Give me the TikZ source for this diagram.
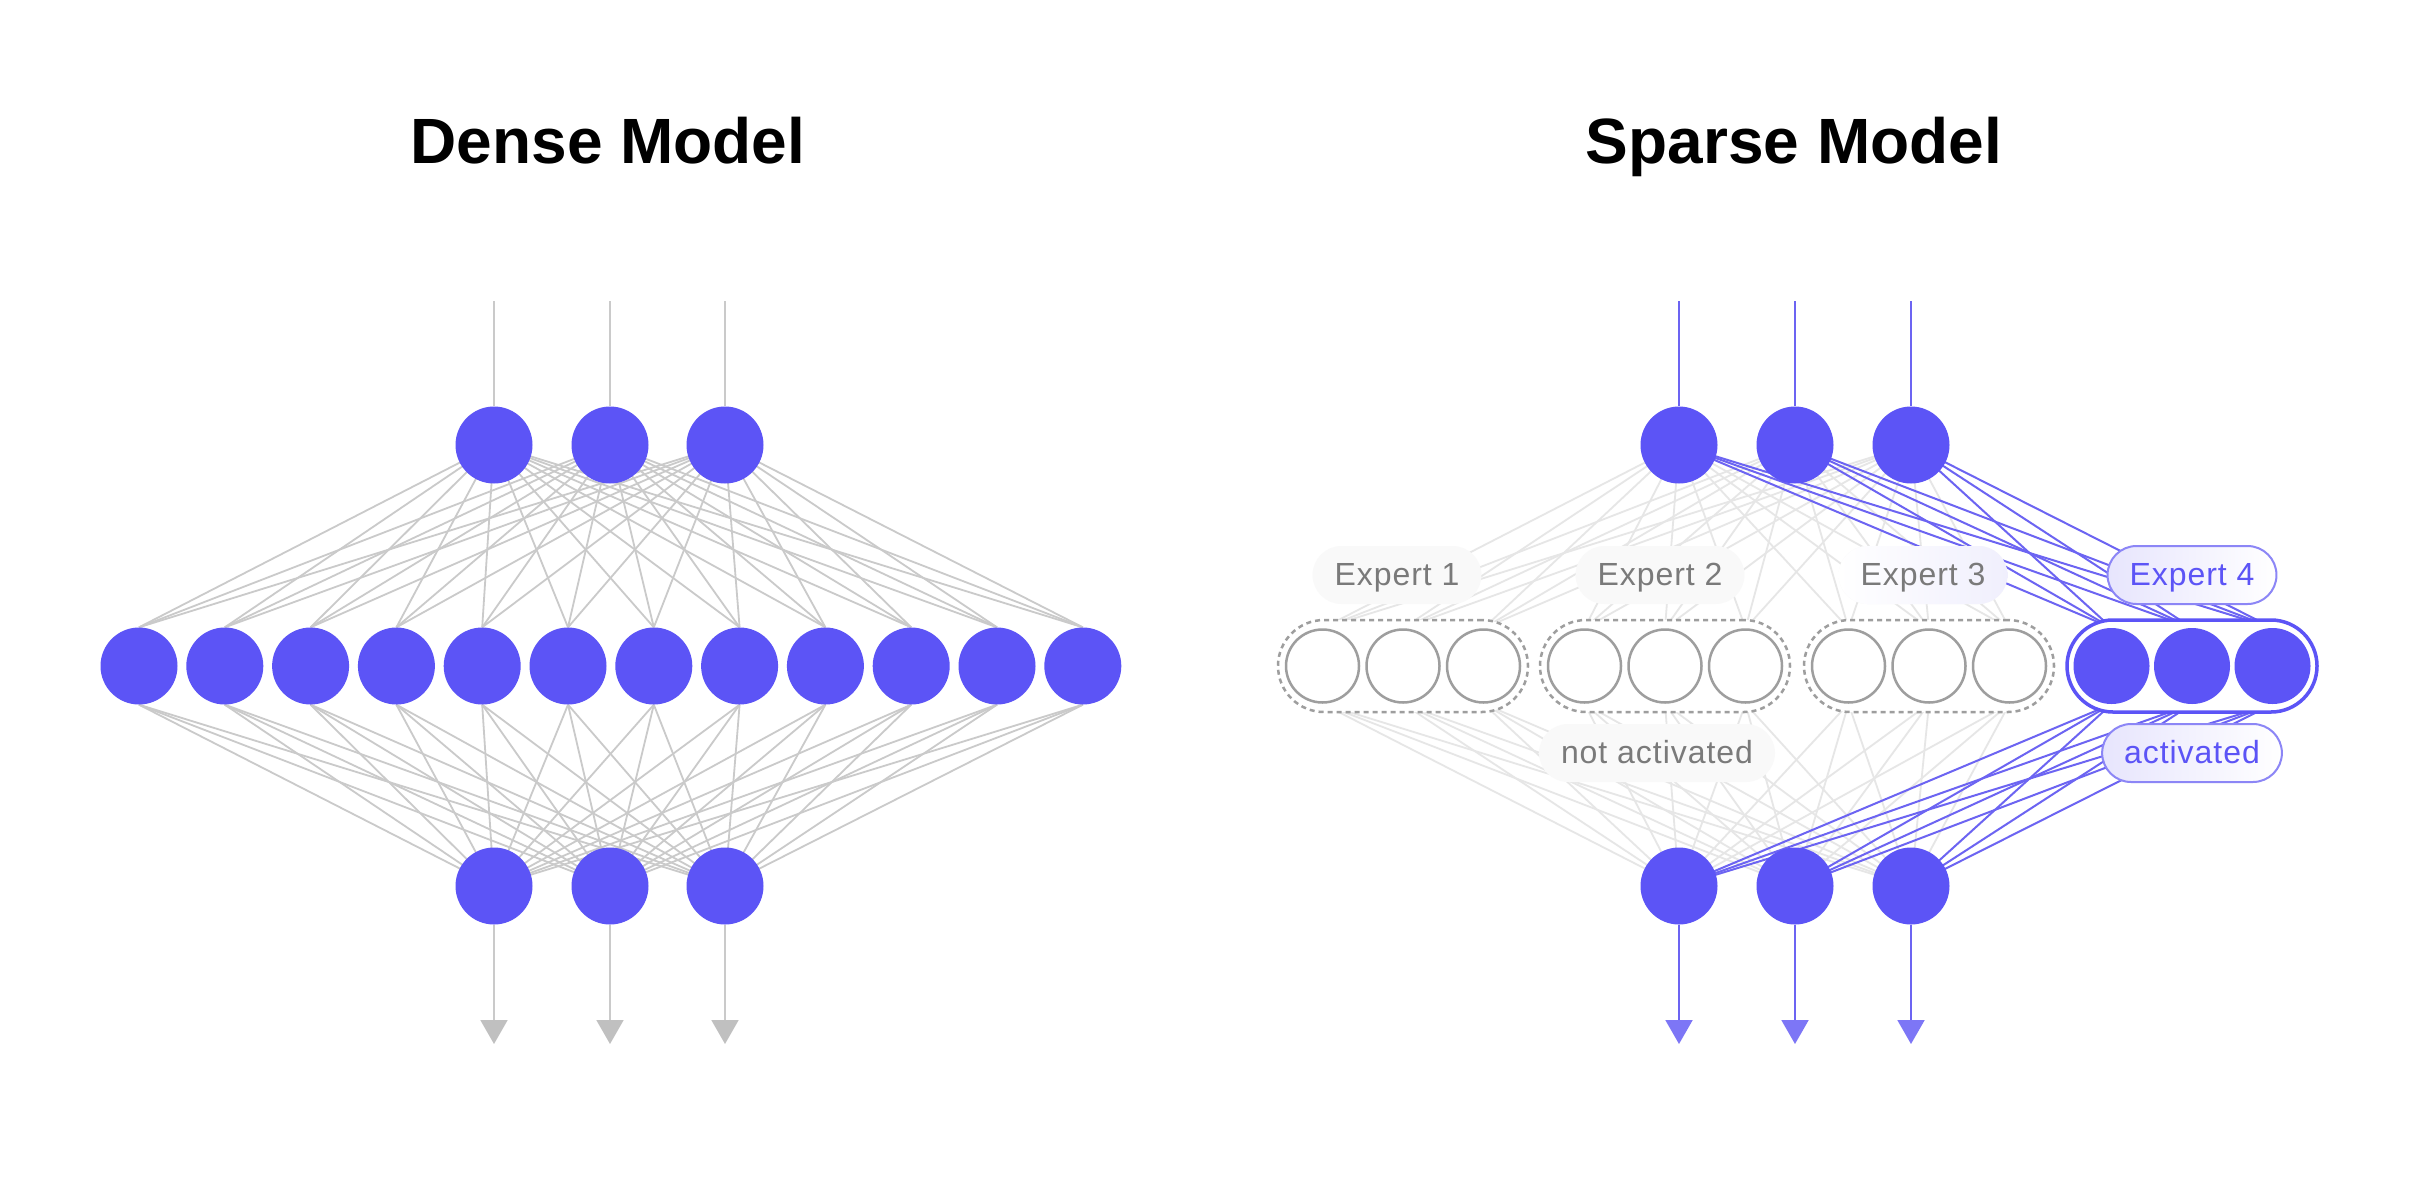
\documentclass[tikz,border=0pt]{standalone}
\usepackage{fontspec}
\setmainfont{Liberation Sans}
\usetikzlibrary{arrows.meta}
\definecolor{nodeblue}{RGB}{92,84,246}
\definecolor{lineblue}{RGB}{108,100,242}
\definecolor{tipblue}{RGB}{125,118,246}
\definecolor{densegrey}{RGB}{202,202,202}
\definecolor{tipgrey}{RGB}{192,192,192}
\definecolor{faintgrey}{RGB}{230,230,230}
\definecolor{ringgrey}{RGB}{158,158,158}
\definecolor{textgrey}{RGB}{122,122,122}
\definecolor{pillblue}{RGB}{140,134,246}
\definecolor{lav}{RGB}{231,229,253}
\definecolor{lavlight}{RGB}{240,239,253}
\definecolor{labelbg}{RGB}{249,249,249}
\pgfdeclarelayer{bgl}
\pgfdeclarelayer{offl}
\pgfdeclarelayer{onl}
\pgfsetlayers{bgl,offl,onl,main}
\tikzset{
  neuron/.style={circle, fill=nodeblue, minimum size=77pt, inner sep=0pt, draw=none},
  hollow/.style={circle, draw=ringgrey, line width=2.5pt, fill=white, minimum size=73pt, inner sep=0pt},
  denseedge/.style={draw=densegrey, line width=1.8pt},
  offedge/.style={draw=faintgrey, line width=1.8pt},
  onedge/.style={draw=lineblue, line width=2pt},
  groupbox/.style={rectangle, rounded corners=46pt, minimum width=250pt, minimum height=92pt, inner sep=0pt, fill=white},
  offbox/.style={groupbox, draw=ringgrey, line width=2.5pt, dash pattern=on 5pt off 4pt},
  onbox/.style={groupbox, draw=nodeblue, line width=3.5pt},
  titletext/.style={font=\fontsize{64}{76}\selectfont\bfseries, anchor=base, inner sep=0pt},
  pill/.style={rectangle, rounded corners=29pt, minimum height=58pt, inner xsep=22pt,
    text height=26pt, text depth=6pt,
    font=\fontsize{32}{38}\selectfont\addfontfeature{LetterSpace=3}},
  offlabel/.style={pill, text=textgrey, fill=labelbg},
  onlabel/.style={pill, text=nodeblue, draw=pillblue, line width=2pt, left color=lav, right color=white},
  greytip/.style={-{Triangle[width=27pt,length=24pt,fill=tipgrey,color=tipgrey]}},
  bluetip/.style={-{Triangle[width=27pt,length=24pt,fill=tipblue,color=tipblue]}}
}
\begin{document}
\begin{tikzpicture}[x=1pt,y=-1pt]
\begin{pgfonlayer}{bgl}
\fill[white] (0,0) rectangle (2420,1200);
\end{pgfonlayer}
\useasboundingbox (0,0) rectangle (2420,1200);

% ---------------- titles
\node[titletext] (t1) at (608,163) {Dense Model};
\node[titletext] (t2) at (1794,163) {Sparse Model};

% ================= DENSE MODEL
\foreach \i/\x in {1/494,2/610,3/725}{
  \node[neuron] (T\i) at (\x,445) {};
  \node[neuron] (B\i) at (\x,886) {};
  \coordinate (Tin\i) at (\x,301);
  \coordinate (Bout\i) at (\x,1044);
}
\foreach \k in {1,...,12}{
  \node[neuron] (M\k) at ({139+85.8*(\k-1)},666) {};
}
\begin{pgfonlayer}{offl}
  \foreach \i in {1,2,3}{
    \foreach \k in {1,...,12}{
      \draw[denseedge] (T\i.center) -- (M\k.north);
      \draw[denseedge] (M\k.south) -- (B\i.center);
    }
  }
\end{pgfonlayer}
\foreach \i in {1,2,3}{
  \draw[denseedge] (Tin\i) -- (T\i);
  \draw[denseedge, greytip] (B\i) -- (Bout\i);
}

% ================= SPARSE MODEL
\foreach \i/\x in {1/1679,2/1795,3/1911}{
  \node[neuron] (S\i) at (\x,445) {};
  \node[neuron] (R\i) at (\x,886) {};
  \coordinate (Sin\i) at (\x,301);
  \coordinate (Rout\i) at (\x,1044);
}
% expert groups
\foreach \g/\gx in {1/1403,2/1665,3/1929}{
  \node[offbox] (G\g) at (\gx,666) {};
  \foreach \c in {1,2,3}{
    \node[hollow] (E\g\c) at ({\gx+80.5*(\c-2)},666) {};
  }
}
\node[onbox] (G4) at (2192,666) {};
\foreach \c in {1,2,3}{
  \node[neuron, minimum size=76pt] (E4\c) at ({2192+80.5*(\c-2)},666) {};
}
% inactive connections
\begin{pgfonlayer}{offl}
  \foreach \i in {1,2,3}{
    \foreach \g in {1,2,3}{
      \foreach \c in {1,2,3}{
        \draw[offedge] (S\i.center) -- (E\g\c.north);
        \draw[offedge] (E\g\c.south) -- (R\i.center);
      }
    }
  }
\end{pgfonlayer}
% active connections
\begin{pgfonlayer}{onl}
  \foreach \i in {1,2,3}{
    \foreach \c in {1,2,3}{
      \draw[onedge] (S\i.center) -- (E4\c.north);
      \draw[onedge] (E4\c.south) -- (R\i.center);
    }
  }
\end{pgfonlayer}
% labels
\node[offlabel] (L1) at (1397,575) {Expert 1};
\node[offlabel] (L2) at (1660,575) {Expert 2};
\node[offlabel, left color=white, right color=lavlight] (L3) at (1923,575) {Expert 3};
\node[onlabel] (L4) at (2192,575) {Expert 4};
\node[offlabel] (Lna) at (1657,753) {not activated};
\node[onlabel] (La) at (2192,753) {activated};
% inputs / outputs
\foreach \i in {1,2,3}{
  \draw[onedge] (Sin\i) -- (S\i);
  \draw[onedge, bluetip] (R\i) -- (Rout\i);
}
\end{tikzpicture}
\end{document}
